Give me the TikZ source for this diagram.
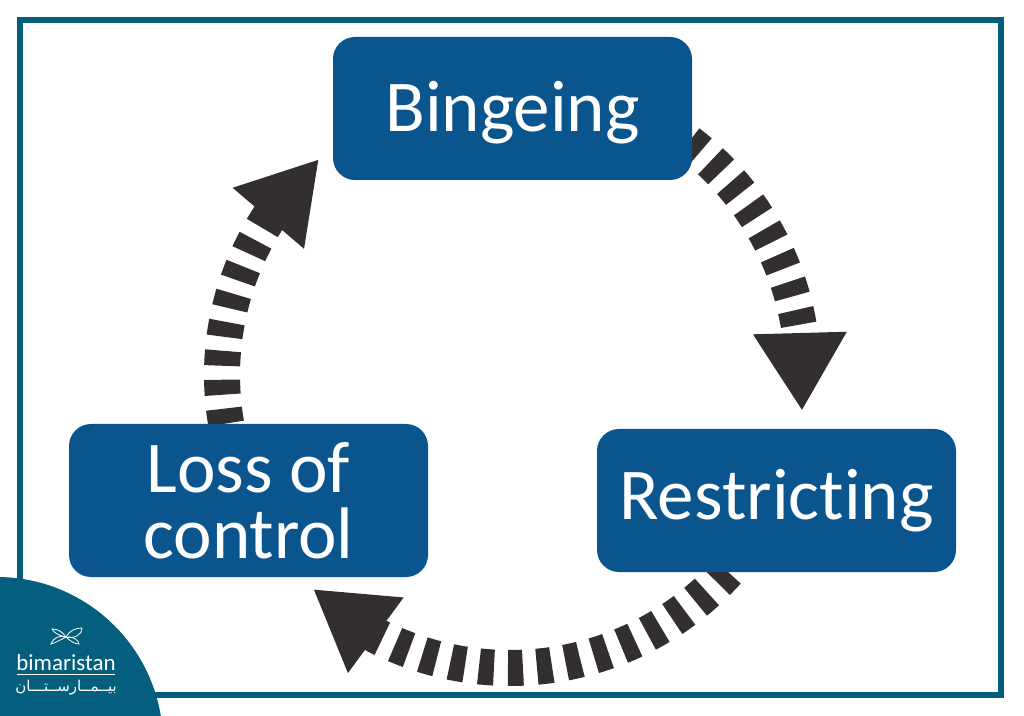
\documentclass[tikz,border=0pt]{standalone}
\usepackage{fontspec}
\setmainfont[Ligatures={CommonOff,ContextualOff},RawFeature={-liga;-clig}]{Carlito}
\newfontfamily\arabicfont[Script=Arabic]{DejaVu Sans}
\TeXXeTstate=1
\usetikzlibrary{arrows.meta}
\definecolor{boxblue}{RGB}{11,85,143}
\definecolor{teal}{RGB}{4,94,125}
\definecolor{ink}{RGB}{51,47,47}
\tikzset{
  x=1pt,y=1pt,
  stagebox/.style={fill=boxblue,rounded corners=22pt,minimum width=359pt,inner sep=0pt,text=white,align=center,font=\fontsize{73}{66}\selectfont},
  flow/.style={draw=ink,line width=36pt,dash pattern=on 15pt off 14pt,-{Triangle[length=78pt,width=88pt,fill=ink]}},
  leaf/.style={draw=white,line width=0.8pt,fill=none}
}
\begin{document}
\begin{tikzpicture}
\useasboundingbox (0,0) rectangle (1024,715);
\fill[white] (0,0) rectangle (1024,715);
\draw[teal,line width=6pt] (20,20) rectangle (1001,695);
\coordinate (C) at (510,340);
% connector end points
\coordinate (bingeOut) at ([shift={(C)}]52.5:293pt);
\coordinate (restrictOut) at ([shift={(C)}]-42.1:293pt);
\coordinate (lossOut) at ([shift={(C)}]189.7:288pt);
\coordinate (restrictTip) at (802,304);
\coordinate (lossTip) at (313,126);
\coordinate (bingeTip) at (319,556);
% connectors
\draw[flow] (bingeOut) arc[start angle=52.5,end angle=8.4,radius=293pt] -- (restrictTip);
\draw[flow] (restrictOut) arc[start angle=-42.1,end angle=-117.1,radius=293pt] -- (lossTip);
\draw[flow] (lossOut) arc[start angle=189.7,end angle=147,radius=288pt] -- (bingeTip);
% boxes
\node[stagebox,minimum height=143pt,text height=62pt,text depth=15pt] (binge) at (512.5,606.5) {Bingeing};
\node[stagebox,minimum height=143pt] (restrict) at (776.5,214.5) {Restricting};
\node[stagebox,minimum height=153pt] (loss) at (248.5,214.5) {Loss of\\control};
% logo
\begin{scope}
\clip (0,0) rectangle (200,200);
\fill[teal] (-3,-28) circle[radius=166pt];
\end{scope}
\node[text=white,font=\fontsize{23}{23}\selectfont,inner sep=0pt] (brand) at (66,52) {bimaristan};
\draw[white,line width=0.8pt] (17,40.5) -- (115,40.5);
\node[text=white,font=\arabicfont\fontsize{15}{15}\selectfont,inner sep=0pt] (brandar) at (66,27) {\beginR بيــمــارســتـــان\endR};
\coordinate (mark) at (66,78);
\draw[leaf] (mark) .. controls (70,85) and (76,87) .. (82,87) .. controls (82,80) and (74,76) .. (mark);
\draw[leaf] (mark) .. controls (62,84) and (57,86) .. (52,86) .. controls (54,82) and (60,79) .. (mark);
\draw[leaf] (mark) .. controls (60,75) and (55,72) .. (51,71) .. controls (54,78) and (60,80) .. (mark);
\draw[leaf] (mark) .. controls (70,74) and (75,71) .. (79,71) .. controls (79,75) and (72,79) .. (mark);
\end{tikzpicture}
\end{document}
